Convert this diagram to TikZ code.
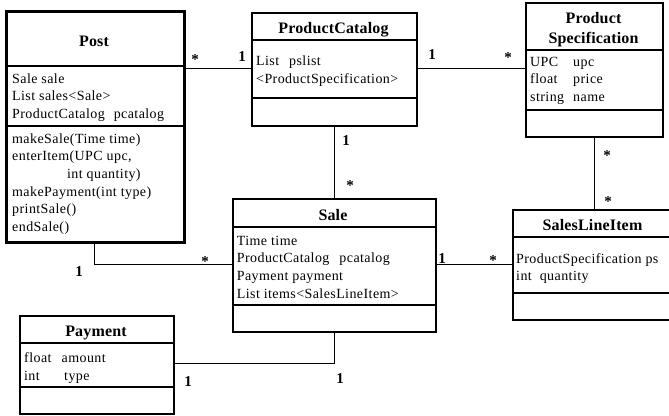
\documentclass[tikz,border=0pt]{standalone}
\usepackage{fontspec}
\setmainfont{Liberation Serif}
\newfontfamily\bodyfont{Liberation Serif}[LetterSpace=3]
\newfontfamily\titlefont{Liberation Serif}[LetterSpace=1]
\begin{document}
\begin{tikzpicture}[x=1pt,y=-1pt,
  box/.style={draw, line width=2.3pt, inner sep=0pt, anchor=north west},
  thickbox/.style={box, line width=3.3pt},
  divider/.style={line width=2pt},
  conn/.style={line width=1pt},
  ttl/.style={font=\titlefont\bfseries\fontsize{16}{19.7}\selectfont, inner sep=0pt, anchor=base, align=center},
  body/.style={font=\bodyfont\fontsize{14}{17.7}\selectfont, inner sep=0pt, anchor=north west, align=left},
  mult/.style={font=\bfseries\fontsize{15}{18}\selectfont, inner sep=0pt, anchor=base}]
\useasboundingbox (0,0) rectangle (669,415);

% boxes
\node[thickbox, minimum width=178pt, minimum height=231pt] (post) at (5,10) {};
\node[box, minimum width=165pt, minimum height=113pt] (pc) at (251,12) {};
\node[box, minimum width=137pt, minimum height=134.5pt] (ps) at (525,1.5) {};
\node[box, minimum width=203pt, minimum height=133pt] (sale) at (232,198) {};
\node[box, minimum width=163pt, minimum height=110pt] (sli) at (512,209) {};
\node[box, minimum width=154pt, minimum height=98pt] (pay) at (19,315) {};

% dividers
\draw[divider] (post.west |- 0,66) -- (post.east |- 0,66);
\draw[divider] (post.west |- 0,126) -- (post.east |- 0,126);
\draw[divider] (pc.west |- 0,40) -- (pc.east |- 0,40);
\draw[divider] (pc.west |- 0,98) -- (pc.east |- 0,98);
\draw[divider] (ps.west |- 0,50) -- (ps.east |- 0,50);
\draw[divider] (ps.west |- 0,110) -- (ps.east |- 0,110);
\draw[divider] (sale.west |- 0,226.5) -- (sale.east |- 0,226.5);
\draw[divider] (sale.west |- 0,305) -- (sale.east |- 0,305);
\draw[divider] (sli.west |- 0,237.3) -- (sli.east |- 0,237.3);
\draw[divider] (sli.west |- 0,293.3) -- (sli.east |- 0,293.3);
\draw[divider] (pay.west |- 0,343) -- (pay.east |- 0,343);
\draw[divider] (pay.west |- 0,387) -- (pay.east |- 0,387);

% titles
\node[ttl] (postT) at (94,46) {Post};
\node[ttl] (pcT) at (333.5,33) {ProductCatalog};
\node[ttl, anchor=north] (psT) at (593.5,9.5) {\strut Product\\Specification};
\node[ttl] (saleT) at (333,220) {Sale};
\node[ttl] (sliT) at (592.5,230.7) {SalesLineItem};
\node[ttl] (payT) at (96,336.5) {Payment};

% attributes and operations
\node[body] (postA) at (12,70.6) {\strut Sale sale\\List sales<Sale>\\ProductCatalog\hspace{9pt}pcatalog};
\node[body] (postO) at (12,130.6) {\strut makeSale(Time time)\\enterItem(UPC upc,\\\hspace*{55pt}int quantity)\\makePayment(int type)\\printSale()\\endSale()};
\node[body] (pcA) at (256,52.9) {\strut\makebox[33pt][l]{List}pslist\\<ProductSpecification>};
\node[body] (psA) at (530,53.6) {\strut\makebox[43pt][l]{UPC}upc\\\makebox[43pt][l]{float}price\\\makebox[43pt][l]{string}name};
\node[body] (saleA) at (236.7,232.6) {\strut Time time\\ProductCatalog\hspace{10pt}pcatalog\\Payment payment\\List items<SalesLineItem>};
\node[body] (sliA) at (516,250.6) {\strut ProductSpecification ps\\int\hspace{8pt}quantity};
\node[body] (payA) at (24,350.3) {\strut\makebox[37.5pt][l]{float}amount\\\makebox[40pt][l]{int}type};

% connectors
\draw[conn] (post.east |- 0,68) -- (pc.west |- 0,68);
\draw[conn] (pc.east |- 0,68) -- (ps.west |- 0,68);
\draw[conn] (pc.south -| 334,0) -- (sale.north -| 334,0);
\draw[conn] (ps.south -| 594,0) -- (sli.north -| 594,0);
\draw[conn] (post.south -| 94,0) |- (sale.west |- 0,264);
\draw[conn] (sale.east |- 0,264) -- (sli.west |- 0,264);
\draw[conn] (sale.south -| 334,0) |- (pay.east |- 0,363);

% multiplicities
\node[mult] (m1) at (195,64) {*};
\node[mult] (m2) at (242,61) {1};
\node[mult] (m3) at (432,59) {1};
\node[mult] (m4) at (508,62) {*};
\node[mult] (m5) at (346,145) {1};
\node[mult] (m6) at (350,190) {*};
\node[mult] (m7) at (607,160) {*};
\node[mult] (m8) at (608,206) {*};
\node[mult] (m9) at (79,276) {1};
\node[mult] (m10) at (205,266) {*};
\node[mult] (m11) at (442,263) {1};
\node[mult] (m12) at (493,265) {*};
\node[mult] (m13) at (188,386) {1};
\node[mult] (m14) at (340,383) {1};
\end{tikzpicture}
\end{document}
